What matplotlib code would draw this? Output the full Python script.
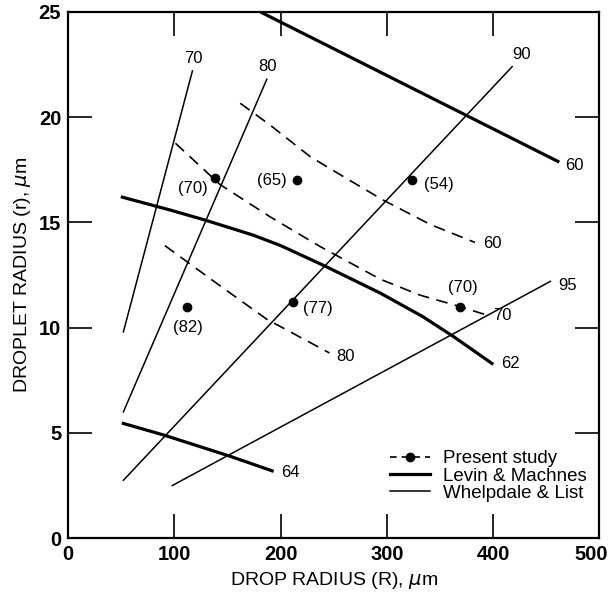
import matplotlib
matplotlib.use('Agg')
import matplotlib.pyplot as plt
import matplotlib.transforms as mtransforms
from matplotlib.lines import Line2D

plt.rcParams['font.family'] = ['Liberation Sans', 'DejaVu Sans']

# Whelpdale & List (thin straight lines), label = value
wl_labels = ['70', '80', '90', '95']
wl_x = [[52, 117], [52, 187], [52, 418], [98, 454]]
wl_y = [[9.8, 22.2], [6.0, 21.8], [2.75, 22.4], [2.5, 12.2]]

# Levin & Machnes (thick lines)
lm_labels = ['60', '62', '64']
lm_x = [[181, 461],
        [51, 96, 129, 174, 200, 240, 294, 334, 363, 399],
        [52, 90, 152, 192]]
lm_y = [[25.0, 17.9],
        [16.2, 15.59, 15.11, 14.4, 13.9, 12.97, 11.64, 10.52, 9.57, 8.3],
        [5.45, 4.9, 3.9, 3.2]]

# Present study (dashed curves)
ps_labels = ['60', '70', '80']
ps_x = [[162, 190, 228, 265, 297, 341, 383],
        [101, 143, 190, 237, 294, 331, 369, 394],
        [91, 140, 187, 246]]
ps_y = [[20.66, 19.63, 18.12, 17.0, 16.05, 14.9, 14.05],
        [18.76, 16.8, 15.27, 13.86, 12.3, 11.55, 11.0, 10.6],
        [13.9, 12.1, 10.4, 8.8]]

# Present study measured points
pt_x = [138, 215, 324, 112, 212, 369]
pt_y = [17.1, 17.0, 17.0, 11.0, 11.2, 11.0]
pt_labels = ['(70)', '(65)', '(54)', '(82)', '(77)', '(70)']

# label positions (layout)
wl_lab_pos = [(118, 22.8), (188, 22.4), (427, 23.0), (470, 12.0)]
lm_lab_pos = [(477, 17.7), (416, 8.3), (209, 3.1)]
ps_lab_pos = [(399, 14.0), (409, 10.6), (261, 8.65)]
pt_lab_pos = [(117, 16.6), (192, 17.0), (349, 16.8), (113, 10.0), (235, 10.9), (372, 11.9)]

fig = plt.figure(figsize=(6.14, 5.96), dpi=100)
ax = fig.add_axes([0.111, 0.097, 0.865, 0.883])

for xs, ys in zip(wl_x, wl_y):
    ax.plot(xs, ys, color='black', lw=1.1)
for xs, ys in zip(lm_x, lm_y):
    ax.plot(xs, ys, color='black', lw=2.3)
for xs, ys in zip(ps_x, ps_y):
    ax.plot(xs, ys, color='black', lw=1.2, dashes=(7, 4.5))
ax.plot(pt_x, pt_y, 'o', color='black', ms=6)

fs = 12
for lab, (x, y) in zip(wl_labels, wl_lab_pos):
    ax.text(x, y, lab, ha='center', va='center', fontsize=fs)
for lab, (x, y) in zip(lm_labels, lm_lab_pos):
    ax.text(x, y, lab, ha='center', va='center', fontsize=fs)
for lab, (x, y) in zip(ps_labels, ps_lab_pos):
    ax.text(x, y, lab, ha='center', va='center', fontsize=fs)
for lab, (x, y) in zip(pt_labels, pt_lab_pos):
    ax.text(x, y, lab, ha='center', va='center', fontsize=fs)

ax.set_xlim(0, 500)
ax.set_ylim(0, 25)
ax.set_xticks([0, 100, 200, 300, 400, 500])
ax.set_yticks([0, 5, 10, 15, 20, 25])
ax.tick_params(direction='in', length=17, width=1.2, top=True, right=True,
               labelsize=14.5, pad=5)
for t in ax.get_xticklabels() + ax.get_yticklabels():
    t.set_fontweight('bold')
# pull "500" a little left so it stays inside the figure
last = ax.get_xticklabels()[-1]
last.set_transform(last.get_transform() +
                   mtransforms.ScaledTranslation(-6 / 72, 0, fig.dpi_scale_trans))
for s in ax.spines.values():
    s.set_linewidth(1.6)

ax.set_xlabel('DROP RADIUS (R), $\\mu$m', fontsize=14, labelpad=4)
ax.set_ylabel('DROPLET RADIUS (r), $\\mu$m', fontsize=14, labelpad=4)

handles = [Line2D([], [], color='black', lw=1.2, dashes=(4, 3), marker='o', ms=6),
           Line2D([], [], color='black', lw=2.3),
           Line2D([], [], color='black', lw=1.1)]
ax.legend(handles, ['Present study', 'Levin & Machnes', 'Whelpdale & List'],
          loc='lower right', bbox_to_anchor=(0.99, 0.055), frameon=False,
          fontsize=13.5, handlelength=2.1, handletextpad=0.7, labelspacing=0.0,
          borderaxespad=0)

fig.savefig('out.png', dpi=100)
